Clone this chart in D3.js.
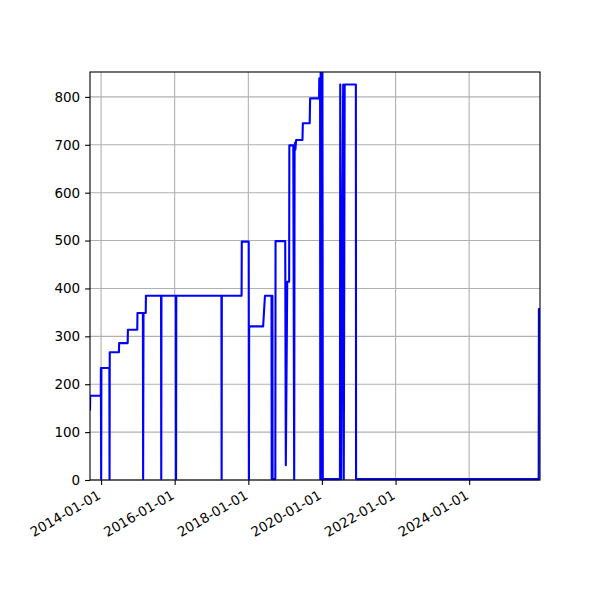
<!DOCTYPE html>
<html>
<head>
<meta charset="utf-8">
<script src="https://cdn.jsdelivr.net/npm/d3@7"></script>
<style>
  body { margin: 0; background: #fff; }
  text { font-family: "DejaVu Sans", sans-serif; font-size: 13.5px; fill: #000; }
</style>
</head>
<body>
<div id="container"></div>
<script>
// series
var dates = [
    '2013-09-13', '2013-09-15', '2013-12-29', '2013-12-30', '2014-01-02', '2014-01-04',
    '2014-03-24', '2014-03-26', '2014-03-28', '2014-06-27', '2014-06-29',
    '2014-09-22', '2014-09-24', '2014-12-26', '2014-12-28',
    '2015-02-20', '2015-02-22', '2015-02-26', '2015-03-20', '2015-03-22',
    '2015-08-19', '2015-08-21', '2015-08-23',
    '2016-01-13', '2016-01-15', '2016-01-17',
    '2017-04-09', '2017-04-11', '2017-04-13',
    '2017-10-26', '2017-10-28', '2018-01-05', '2018-01-07', '2018-01-09', '2018-01-14',
    '2018-05-28', '2018-06-15', '2018-08-19', '2018-08-21', '2018-08-28', '2018-08-30',
    '2018-09-26', '2018-09-28',
    '2019-01-02', '2019-01-08', '2019-01-22', '2019-02-10', '2019-02-12',
    '2019-03-23', '2019-04-01', '2019-04-05', '2019-04-09', '2019-04-13', '2019-04-20',
    '2019-06-22', '2019-06-26', '2019-09-02', '2019-09-06',
    '2019-12-04', '2019-12-06', '2019-12-14', '2019-12-16', '2019-12-20', '2019-12-24',
    '2019-12-29', '2020-01-02', '2020-01-06', '2020-01-10',
    '2020-06-28', '2020-07-01', '2020-07-10', '2020-07-30', '2020-08-05', '2020-08-14',
    '2020-12-03', '2020-12-05',
    '2025-11-21', '2025-11-23', '2025-12-04'
];
var values = [
    143, 174, 174, 232, 0, 232,
    232, 0, 265, 265, 284,
    284, 312, 312, 347,
    347, 0, 347, 347, 383,
    383, 0, 383,
    383, 0, 383,
    383, 0, 383,
    383, 496, 496, 0, 315, 319,
    319, 383, 383, 0, 383, 0,
    0, 497,
    497, 29, 412, 412, 697,
    697, 0, 685, 703, 688, 708,
    708, 743, 743, 795,
    795, 837, 837, 0, 900, 0,
    900, 0, 900, 0,
    0, 824, 0, 824, 0, 824,
    824, 0,
    0, 355, 355
];

var yTicks = [0, 100, 200, 300, 400, 500, 600, 700, 800];
var xTickLabels = ['2014-01-01', '2016-01-01', '2018-01-01', '2020-01-01', '2022-01-01', '2024-01-01'];

var width = 600, height = 600;
var margin = { top: 72, right: 60, bottom: 120, left: 90 };
var w = width - margin.left - margin.right,
    h = height - margin.top - margin.bottom;

var parse = d3.timeParse('%Y-%m-%d');
var data = dates.map(function (d, i) { return { date: parse(d), value: values[i] }; });

var x = d3.scaleTime()
    .domain([parse('2013-09-13'), parse('2025-12-04')])
    .range([0, w]);
var y = d3.scaleLinear()
    .domain([0, 852])
    .range([h, 0]);

var svg = d3.select('#container').append('svg')
    .attr('width', width)
    .attr('height', height);

var g = svg.append('g')
    .attr('transform', 'translate(' + margin.left + ',' + margin.top + ')');

g.append('clipPath').attr('id', 'clip')
    .append('rect').attr('width', w).attr('height', h + 1);

var xTickDates = xTickLabels.map(parse);

// grid
g.append('g').selectAll('line')
    .data(xTickDates)
    .enter().append('line')
    .attr('x1', function (d) { return x(d); })
    .attr('x2', function (d) { return x(d); })
    .attr('y1', 0).attr('y2', h)
    .attr('stroke', '#b0b0b0').attr('stroke-width', 1.1);

g.append('g').selectAll('line')
    .data(yTicks)
    .enter().append('line')
    .attr('x1', 0).attr('x2', w)
    .attr('y1', function (d) { return y(d); })
    .attr('y2', function (d) { return y(d); })
    .attr('stroke', '#b0b0b0').attr('stroke-width', 1.1);

// the series (nudged up a hair so the zero stretch shows above the spine, like the original)
var line = d3.line()
    .x(function (d) { return x(d.date); })
    .y(function (d) { return y(d.value); });

g.append('g')
    .attr('clip-path', 'url(#clip)')
    .append('path')
    .datum(data)
    .attr('transform', 'translate(0,-0.9)')
    .attr('d', line)
    .attr('fill', 'none')
    .attr('stroke', '#0000ff')
    .attr('stroke-width', 2.1)
    .attr('stroke-linejoin', 'round');

// axes
var xAxis = g.append('g')
    .attr('transform', 'translate(0,' + h + ')')
    .call(d3.axisBottom(x).tickValues(xTickDates).tickFormat(d3.timeFormat('%Y-%m-%d')).tickSize(4.9).tickSizeOuter(0));
xAxis.select('.domain').remove();
xAxis.selectAll('line').attr('stroke', '#000').attr('stroke-width', 1.1);
xAxis.selectAll('text')
    .attr('font-size', null).attr('font-family', null)
    .style('text-anchor', 'end')
    .attr('x', 0).attr('y', 0).attr('dy', null)
    .attr('transform', 'translate(0,18) rotate(-30)');

var yAxis = g.append('g')
    .call(d3.axisLeft(y).tickValues(yTicks).tickSize(4.9).tickPadding(4.9).tickSizeOuter(0));
yAxis.select('.domain').remove();
yAxis.selectAll('line').attr('stroke', '#000').attr('stroke-width', 1.1);
yAxis.selectAll('text').attr('font-size', null).attr('font-family', null);

// frame
g.append('rect')
    .attr('width', w).attr('height', h)
    .attr('fill', 'none')
    .attr('stroke', '#000')
    .attr('stroke-width', 1.1);
</script>
</body>
</html>
